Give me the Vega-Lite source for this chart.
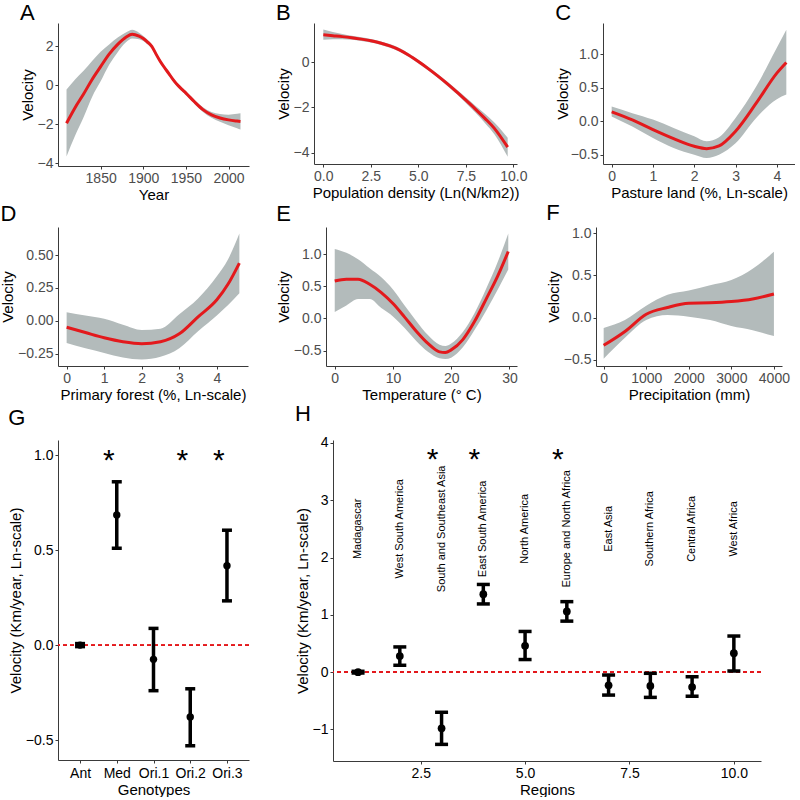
{
  "$schema": "https://vega.github.io/schema/vega-lite/v6.json",
  "padding": {"left": 0, "top": 2, "right": 0, "bottom": 0},
  "background": "white",
  "spacing": 0,
  "vconcat": [
    {
      "spacing": 27,
      "hconcat": [
        {
          "title": {"text": "A", "offset": -2},
          "width": 191, "height": 143,
          "data": {"values": [
            {"x": 1810, "fit": -1.95, "lo": -3.66, "hi": -0.22},
            {"x": 1820, "fit": -1.15, "lo": -2.6, "hi": 0.3},
            {"x": 1830, "fit": -0.45, "lo": -1.65, "hi": 0.75},
            {"x": 1840, "fit": 0.3, "lo": -0.6, "hi": 1.25},
            {"x": 1850, "fit": 0.96, "lo": 0.2, "hi": 1.72},
            {"x": 1860, "fit": 1.6, "lo": 1.05, "hi": 2.1},
            {"x": 1870, "fit": 2.1, "lo": 1.7, "hi": 2.45},
            {"x": 1880, "fit": 2.48, "lo": 2.22, "hi": 2.72},
            {"x": 1887, "fit": 2.62, "lo": 2.4, "hi": 2.85},
            {"x": 1895, "fit": 2.52, "lo": 2.36, "hi": 2.7},
            {"x": 1900, "fit": 2.4, "lo": 2.27, "hi": 2.53},
            {"x": 1905, "fit": 2.22, "lo": 2.1, "hi": 2.34},
            {"x": 1910, "fit": 2.0, "lo": 1.9, "hi": 2.1},
            {"x": 1915, "fit": 1.6, "lo": 1.5, "hi": 1.7},
            {"x": 1920, "fit": 1.22, "lo": 1.12, "hi": 1.32},
            {"x": 1925, "fit": 0.9, "lo": 0.8, "hi": 1.0},
            {"x": 1930, "fit": 0.6, "lo": 0.5, "hi": 0.7},
            {"x": 1935, "fit": 0.29, "lo": 0.19, "hi": 0.39},
            {"x": 1940, "fit": 0.02, "lo": -0.08, "hi": 0.12},
            {"x": 1945, "fit": -0.2, "lo": -0.3, "hi": -0.1},
            {"x": 1950, "fit": -0.4, "lo": -0.5, "hi": -0.3},
            {"x": 1960, "fit": -0.85, "lo": -0.95, "hi": -0.75},
            {"x": 1970, "fit": -1.25, "lo": -1.37, "hi": -1.13},
            {"x": 1980, "fit": -1.52, "lo": -1.67, "hi": -1.37},
            {"x": 1990, "fit": -1.68, "lo": -1.88, "hi": -1.48},
            {"x": 2000, "fit": -1.78, "lo": -2.05, "hi": -1.51},
            {"x": 2010, "fit": -1.84, "lo": -2.21, "hi": -1.47},
            {"x": 2014, "fit": -1.86, "lo": -2.28, "hi": -1.44}
          ]},
          "encoding": {"x": {"field": "x", "type": "quantitative", "scale": {"domain": [1800, 2024], "nice": false, "zero": false}, "axis": {"title": "Year", "values": [1850, 1900, 1950, 2000], "format": "d"}}},
          "layer": [
            {"mark": {"type": "area", "color": "#b3bbbb", "interpolate": "monotone"}, "encoding": {"y": {"field": "lo", "type": "quantitative", "scale": {"domain": [-4.15, 3.2], "nice": false, "zero": false}, "axis": {"title": "Velocity", "values": [-4, -2, 0, 2]}}, "y2": {"field": "hi"}}},
            {"mark": {"type": "line", "color": "#e3191c", "strokeWidth": 3, "interpolate": "monotone"}, "encoding": {"y": {"field": "fit", "type": "quantitative", "axis": {"title": "Velocity", "values": [-4, -2, 0, 2]}}}}
          ]
        },
        {
          "title": {"text": "B", "offset": -2},
          "width": 203, "height": 141,
          "data": {"values": [
            {"x": 0, "fit": 1.2, "lo": 0.98, "hi": 1.43},
            {"x": 0.5, "fit": 1.16, "lo": 1.0, "hi": 1.32},
            {"x": 1, "fit": 1.12, "lo": 1.0, "hi": 1.24},
            {"x": 1.5, "fit": 1.07, "lo": 0.98, "hi": 1.16},
            {"x": 2, "fit": 1.01, "lo": 0.93, "hi": 1.09},
            {"x": 2.5, "fit": 0.94, "lo": 0.86, "hi": 1.02},
            {"x": 3, "fit": 0.84, "lo": 0.76, "hi": 0.92},
            {"x": 3.5, "fit": 0.71, "lo": 0.63, "hi": 0.79},
            {"x": 4, "fit": 0.54, "lo": 0.46, "hi": 0.62},
            {"x": 4.5, "fit": 0.3, "lo": 0.22, "hi": 0.38},
            {"x": 5, "fit": 0.02, "lo": -0.06, "hi": 0.1},
            {"x": 5.5, "fit": -0.28, "lo": -0.36, "hi": -0.2},
            {"x": 6, "fit": -0.6, "lo": -0.68, "hi": -0.52},
            {"x": 6.5, "fit": -0.94, "lo": -1.03, "hi": -0.85},
            {"x": 7, "fit": -1.3, "lo": -1.4, "hi": -1.2},
            {"x": 7.5, "fit": -1.68, "lo": -1.8, "hi": -1.56},
            {"x": 8, "fit": -2.07, "lo": -2.22, "hi": -1.92},
            {"x": 8.5, "fit": -2.48, "lo": -2.68, "hi": -2.28},
            {"x": 9, "fit": -2.92, "lo": -3.18, "hi": -2.66},
            {"x": 9.7, "fit": -3.75, "lo": -4.17, "hi": -3.33}
          ]},
          "encoding": {"x": {"field": "x", "type": "quantitative", "scale": {"domain": [-0.49, 10.19], "nice": false, "zero": false}, "axis": {"title": "Population density (Ln(N/km2))", "values": [0, 2.5, 5, 7.5, 10], "format": ".1f"}}},
          "layer": [
            {"mark": {"type": "area", "color": "#b3bbbb", "interpolate": "monotone"}, "encoding": {"y": {"field": "lo", "type": "quantitative", "scale": {"domain": [-4.49, 1.72], "nice": false, "zero": false}, "axis": {"title": "Velocity", "values": [-4, -2, 0]}}, "y2": {"field": "hi"}}},
            {"mark": {"type": "line", "color": "#e3191c", "strokeWidth": 3, "interpolate": "monotone"}, "encoding": {"y": {"field": "fit", "type": "quantitative", "axis": {"title": "Velocity", "values": [-4, -2, 0]}}}}
          ]
        },
        {
          "title": {"text": "C", "offset": -2},
          "width": 192, "height": 141,
          "data": {"values": [
            {"x": 0, "fit": 0.14, "lo": 0.07, "hi": 0.22},
            {"x": 0.5, "fit": 0.02, "lo": -0.08, "hi": 0.12},
            {"x": 1, "fit": -0.125, "lo": -0.25, "hi": 0.025},
            {"x": 1.5, "fit": -0.26, "lo": -0.4, "hi": -0.1},
            {"x": 2, "fit": -0.375, "lo": -0.5, "hi": -0.225},
            {"x": 2.3, "fit": -0.41, "lo": -0.55, "hi": -0.3},
            {"x": 2.6, "fit": -0.37, "lo": -0.5, "hi": -0.24},
            {"x": 3, "fit": -0.15, "lo": -0.33, "hi": 0.05},
            {"x": 3.5, "fit": 0.27, "lo": 0.05, "hi": 0.52},
            {"x": 4, "fit": 0.72, "lo": 0.33, "hi": 1.1},
            {"x": 4.23, "fit": 0.88, "lo": 0.4, "hi": 1.37}
          ]},
          "encoding": {"x": {"field": "x", "type": "quantitative", "scale": {"domain": [-0.21, 4.44], "nice": false, "zero": false}, "axis": {"title": "Pasture land (%, Ln-scale)", "values": [0, 1, 2, 3, 4]}}},
          "layer": [
            {"mark": {"type": "area", "color": "#b3bbbb", "interpolate": "monotone"}, "encoding": {"y": {"field": "lo", "type": "quantitative", "scale": {"domain": [-0.64, 1.47], "nice": false, "zero": false}, "axis": {"title": "Velocity", "values": [-0.5, 0, 0.5, 1], "format": ".1f", "titlePadding": 0}}, "y2": {"field": "hi"}}},
            {"mark": {"type": "line", "color": "#e3191c", "strokeWidth": 3, "interpolate": "monotone"}, "encoding": {"y": {"field": "fit", "type": "quantitative", "axis": {"title": "Velocity", "values": [-0.5, 0, 0.5, 1], "format": ".1f", "titlePadding": 0}}}}
          ]
        }
      ]
    },
    {
      "spacing": 28,
      "hconcat": [
        {
          "title": {"text": "D", "offset": 1},
          "width": 190, "height": 139,
          "data": {"values": [
            {"x": 0, "fit": -0.05, "lo": -0.17, "hi": 0.065},
            {"x": 0.5, "fit": -0.09, "lo": -0.21, "hi": 0.04},
            {"x": 1, "fit": -0.13, "lo": -0.245, "hi": 0.015},
            {"x": 1.5, "fit": -0.16, "lo": -0.28, "hi": -0.03},
            {"x": 2, "fit": -0.175, "lo": -0.295, "hi": -0.07},
            {"x": 2.5, "fit": -0.16, "lo": -0.275, "hi": -0.06},
            {"x": 3, "fit": -0.1, "lo": -0.21, "hi": 0.05},
            {"x": 3.5, "fit": 0.03, "lo": -0.08, "hi": 0.17},
            {"x": 4, "fit": 0.16, "lo": 0.04, "hi": 0.34},
            {"x": 4.3, "fit": 0.28, "lo": 0.12, "hi": 0.47},
            {"x": 4.6, "fit": 0.44, "lo": 0.21, "hi": 0.665}
          ]},
          "encoding": {"x": {"field": "x", "type": "quantitative", "scale": {"domain": [-0.23, 4.83], "nice": false, "zero": false}, "axis": {"title": "Primary forest (%, Ln-scale)", "values": [0, 1, 2, 3, 4]}}},
          "layer": [
            {"mark": {"type": "area", "color": "#b3bbbb", "interpolate": "monotone"}, "encoding": {"y": {"field": "lo", "type": "quantitative", "scale": {"domain": [-0.345, 0.715], "nice": false, "zero": false}, "axis": {"title": "Velocity", "values": [-0.25, 0, 0.25, 0.5], "format": ".2f"}}, "y2": {"field": "hi"}}},
            {"mark": {"type": "line", "color": "#e3191c", "strokeWidth": 3, "interpolate": "monotone"}, "encoding": {"y": {"field": "fit", "type": "quantitative", "axis": {"title": "Velocity", "values": [-0.25, 0, 0.25, 0.5], "format": ".2f"}}}}
          ]
        },
        {
          "title": {"text": "E", "offset": 1},
          "width": 191, "height": 139,
          "data": {"values": [
            {"x": 0, "fit": 0.58, "lo": 0.1, "hi": 1.08},
            {"x": 2, "fit": 0.61, "lo": 0.2, "hi": 1.02},
            {"x": 4, "fit": 0.61, "lo": 0.3, "hi": 0.92},
            {"x": 6, "fit": 0.53, "lo": 0.3, "hi": 0.78},
            {"x": 8, "fit": 0.4, "lo": 0.16, "hi": 0.64},
            {"x": 10, "fit": 0.23, "lo": 0.03, "hi": 0.45},
            {"x": 12, "fit": 0.02, "lo": -0.15, "hi": 0.2},
            {"x": 14, "fit": -0.2, "lo": -0.35, "hi": -0.04},
            {"x": 16, "fit": -0.39, "lo": -0.52, "hi": -0.26},
            {"x": 18, "fit": -0.52, "lo": -0.62, "hi": -0.41},
            {"x": 19, "fit": -0.53, "lo": -0.63, "hi": -0.43},
            {"x": 20, "fit": -0.49, "lo": -0.61, "hi": -0.39},
            {"x": 22, "fit": -0.33, "lo": -0.45, "hi": -0.21},
            {"x": 24, "fit": -0.05, "lo": -0.18, "hi": 0.08},
            {"x": 26, "fit": 0.3, "lo": 0.12, "hi": 0.46},
            {"x": 28, "fit": 0.66, "lo": 0.45, "hi": 0.88},
            {"x": 29.8, "fit": 1.04, "lo": 0.76, "hi": 1.32}
          ]},
          "encoding": {"x": {"field": "x", "type": "quantitative", "scale": {"domain": [-1.5, 31.3], "nice": false, "zero": false}, "axis": {"title": "Temperature  (° C)", "values": [0, 10, 20, 30]}}},
          "layer": [
            {"mark": {"type": "area", "color": "#b3bbbb", "interpolate": "monotone"}, "encoding": {"y": {"field": "lo", "type": "quantitative", "scale": {"domain": [-0.74, 1.42], "nice": false, "zero": false}, "axis": {"title": "Velocity", "values": [-0.5, 0, 0.5, 1], "format": ".1f"}}, "y2": {"field": "hi"}}},
            {"mark": {"type": "line", "color": "#e3191c", "strokeWidth": 3, "interpolate": "monotone"}, "encoding": {"y": {"field": "fit", "type": "quantitative", "axis": {"title": "Velocity", "values": [-0.5, 0, 0.5, 1], "format": ".1f"}}}}
          ]
        },
        {
          "title": {"text": "F", "offset": 1},
          "width": 186, "height": 139,
          "data": {"values": [
            {"x": 0, "fit": -0.33, "lo": -0.49, "hi": -0.125},
            {"x": 500, "fit": -0.165, "lo": -0.24, "hi": -0.03},
            {"x": 1000, "fit": 0.04, "lo": -0.03, "hi": 0.14},
            {"x": 1500, "fit": 0.12, "lo": 0.03, "hi": 0.27},
            {"x": 2000, "fit": 0.17, "lo": 0.01, "hi": 0.32},
            {"x": 2500, "fit": 0.175, "lo": -0.03, "hi": 0.385},
            {"x": 3000, "fit": 0.19, "lo": -0.1, "hi": 0.445},
            {"x": 3500, "fit": 0.22, "lo": -0.15, "hi": 0.58},
            {"x": 4000, "fit": 0.28, "lo": -0.22, "hi": 0.78}
          ]},
          "encoding": {"x": {"field": "x", "type": "quantitative", "scale": {"domain": [-180, 4190], "nice": false, "zero": false}, "axis": {"title": "Precipitation (mm)", "values": [0, 1000, 2000, 3000, 4000], "format": "d"}}},
          "layer": [
            {"mark": {"type": "area", "color": "#b3bbbb", "interpolate": "monotone"}, "encoding": {"y": {"field": "lo", "type": "quantitative", "scale": {"domain": [-0.575, 1.075], "nice": false, "zero": false}, "axis": {"title": "Velocity", "values": [-0.5, 0, 0.5, 1], "format": ".1f"}}, "y2": {"field": "hi"}}},
            {"mark": {"type": "line", "color": "#e3191c", "strokeWidth": 3, "interpolate": "monotone"}, "encoding": {"y": {"field": "fit", "type": "quantitative", "axis": {"title": "Velocity", "values": [-0.5, 0, 0.5, 1], "format": ".1f"}}}}
          ]
        }
      ]
    },
    {
      "spacing": 45,
      "hconcat": [
        {
          "title": {"text": "G", "offset": 10},
          "width": 191, "height": 320,
          "data": {"values": [
            {"g": "Ant", "v": 0.0, "lo": -0.008, "hi": 0.008, "sig": ""},
            {"g": "Med", "v": 0.685, "lo": 0.51, "hi": 0.86, "sig": "*"},
            {"g": "Ori.1", "v": -0.075, "lo": -0.24, "hi": 0.088, "sig": ""},
            {"g": "Ori.2", "v": -0.378, "lo": -0.53, "hi": -0.23, "sig": "*"},
            {"g": "Ori.3", "v": 0.418, "lo": 0.233, "hi": 0.605, "sig": "*"}
          ]},
          "encoding": {"x": {"field": "g", "type": "nominal", "sort": ["Ant", "Med", "Ori.1", "Ori.2", "Ori.3"], "scale": {"type": "point", "padding": 0.6}, "axis": {"title": "Genotypes", "labelAngle": 0, "labelColor": "#000000", "labelPadding": 3}}},
          "layer": [
            {"mark": {"type": "rule", "color": "#e3191c", "strokeDash": [4, 3], "strokeWidth": 1}, "encoding": {"y": {"datum": 0, "type": "quantitative", "scale": {"domain": [-0.605, 1.08], "nice": false, "zero": false}, "axis": {"title": "Velocity (Km/year, Ln-scale)", "values": [-0.5, 0, 0.5, 1], "format": ".1f", "labelColor": "#000000"}}, "x": null}},
            {"mark": {"type": "rule", "color": "#000000", "strokeWidth": 3.5}, "encoding": {"y": {"field": "lo", "type": "quantitative"}, "y2": {"field": "hi"}}},
            {"mark": {"type": "tick", "orient": "horizontal", "color": "#000000", "thickness": 3.5, "size": 10, "opacity": 1}, "encoding": {"y": {"field": "lo", "type": "quantitative"}}},
            {"mark": {"type": "tick", "orient": "horizontal", "color": "#000000", "thickness": 3.5, "size": 10, "opacity": 1}, "encoding": {"y": {"field": "hi", "type": "quantitative"}}},
            {"mark": {"type": "circle", "color": "#000000", "size": 55, "opacity": 1}, "encoding": {"y": {"field": "v", "type": "quantitative"}}},
            {"mark": {"type": "text", "fontSize": 30, "color": "#000000", "baseline": "middle", "dx": -8, "dy": 6}, "encoding": {"y": {"datum": 1.0, "type": "quantitative"}, "text": {"field": "sig"}}}
          ]
        },
        {
          "title": {"text": "H", "offset": 10},
          "width": 428, "height": 321,
          "data": {"values": [
            {"i": 1, "region": "Madagascar", "v": 0.0, "lo": -0.015, "hi": 0.015, "sig": ""},
            {"i": 2, "region": "West South America", "v": 0.28, "lo": 0.12, "hi": 0.44, "sig": ""},
            {"i": 3, "region": "South and Southeast Asia", "v": -0.98, "lo": -1.26, "hi": -0.7, "sig": "*"},
            {"i": 4, "region": "East South America", "v": 1.36, "lo": 1.19, "hi": 1.53, "sig": "*"},
            {"i": 5, "region": "North America", "v": 0.46, "lo": 0.22, "hi": 0.71, "sig": ""},
            {"i": 6, "region": "Europe and North Africa", "v": 1.06, "lo": 0.89, "hi": 1.23, "sig": "*"},
            {"i": 7, "region": "East Asia", "v": -0.23, "lo": -0.4, "hi": -0.05, "sig": ""},
            {"i": 8, "region": "Southern Africa", "v": -0.24, "lo": -0.44, "hi": -0.02, "sig": ""},
            {"i": 9, "region": "Central Africa", "v": -0.26, "lo": -0.42, "hi": -0.08, "sig": ""},
            {"i": 10, "region": "West Africa", "v": 0.33, "lo": 0.02, "hi": 0.63, "sig": ""}
          ]},
          "encoding": {"x": {"field": "i", "type": "quantitative", "scale": {"domain": [0.4, 10.65], "nice": false, "zero": false}, "axis": {"title": "Regions", "values": [2.5, 5, 7.5, 10], "format": ".1f", "labelColor": "#000000"}}},
          "layer": [
            {"mark": {"type": "rule", "color": "#e3191c", "strokeDash": [4, 3], "strokeWidth": 1}, "encoding": {"y": {"datum": 0, "type": "quantitative", "scale": {"domain": [-1.55, 4.05], "nice": false, "zero": false}, "axis": {"title": "Velocity (Km/year, Ln-scale)", "values": [-1, 0, 1, 2, 3, 4], "format": "d", "labelColor": "#000000"}}, "x": null}},
            {"mark": {"type": "rule", "color": "#000000", "strokeWidth": 3.5}, "encoding": {"y": {"field": "lo", "type": "quantitative"}, "y2": {"field": "hi"}}},
            {"mark": {"type": "tick", "orient": "horizontal", "color": "#000000", "thickness": 3.5, "size": 13, "opacity": 1}, "encoding": {"y": {"field": "lo", "type": "quantitative"}}},
            {"mark": {"type": "tick", "orient": "horizontal", "color": "#000000", "thickness": 3.5, "size": 13, "opacity": 1}, "encoding": {"y": {"field": "hi", "type": "quantitative"}}},
            {"mark": {"type": "circle", "color": "#000000", "size": 60, "opacity": 1}, "encoding": {"y": {"field": "v", "type": "quantitative"}}},
            {"mark": {"type": "text", "fontSize": 11, "color": "#000000", "angle": 270, "align": "center", "baseline": "middle"}, "encoding": {"y": {"datum": 2.5, "type": "quantitative"}, "text": {"field": "region"}}},
            {"mark": {"type": "text", "fontSize": 30, "color": "#000000", "baseline": "middle", "dx": -9, "dy": 6}, "encoding": {"y": {"datum": 3.8, "type": "quantitative"}, "text": {"field": "sig"}}}
          ]
        }
      ]
    }
  ],
  "config": {
    "font": "Liberation Sans",
    "view": {"stroke": null},
    "axis": {"grid": false, "domainColor": "#3a3a3a", "tickColor": "#3a3a3a", "tickSize": 3, "labelFontSize": 14, "labelColor": "#4d4d4d", "titleFontSize": 15, "titleFontWeight": "normal", "titleColor": "#000000", "labelPadding": 2, "titlePadding": 2, "labelFlush": false, "labelOverlap": false},
    "title": {"fontSize": 22, "fontWeight": "normal", "anchor": "start", "frame": "bounds", "color": "#000000", "offset": 0}
  }
}
